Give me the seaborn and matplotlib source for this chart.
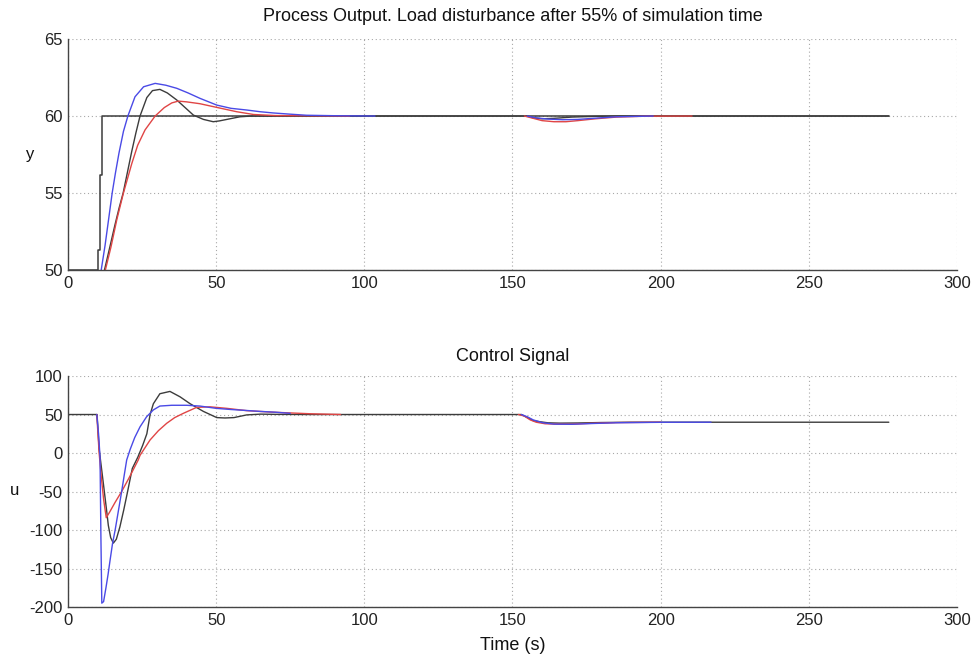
import matplotlib
matplotlib.use("Agg")
import matplotlib.pyplot as plt
import seaborn as sns
import pandas as pd

# ---------------- data ----------------
x_ticks = [0, 50, 100, 150, 200, 250, 300]
y_ticks_top = [50, 55, 60, 65]
y_ticks_bot = [-200, -150, -100, -50, 0, 50, 100]

# Process output: setpoint
sp_t = [0, 10.0, 10.0, 10.8, 10.8, 11.4, 11.4, 277]
sp_y = [50, 50, 51.3, 51.3, 56.2, 56.2, 60, 60]

# Process output: black response (full length)
yk_t = [12.3, 14.0, 15.8, 17.2, 18.6, 20.0, 21.5, 22.9, 24.3, 26.6, 28.5, 31.0, 33.5,
        36.7, 39.5, 42.3, 45.7, 49.0, 51.0, 53.6, 58.0, 62.0, 152, 155, 157, 160,
        164, 170, 178, 185, 277]
yk_y = [50, 51.4, 52.9, 54.0, 55.0, 56.3, 57.7, 58.9, 60.0, 61.2, 61.65, 61.73, 61.5,
        61.04, 60.55, 60.06, 59.78, 59.63, 59.68, 59.78, 59.95, 60.0, 60.0, 60.0, 59.88,
        59.82, 59.85, 59.93, 59.98, 60.0, 60.0]

# Process output: blue response (two visible pieces)
yb1_t = [11.2, 12.5, 13.7, 14.9, 16.0, 17.2, 18.7, 20.2, 22.6, 25.5, 29.4, 33.0, 36.7,
         40.5, 44.5, 50.2, 55.0, 60.3, 64.8, 69.2, 75.0, 80.5, 90.0, 103.6]
yb1_y = [50, 51.6, 53.3, 55.0, 56.3, 57.6, 59.0, 60.0, 61.25, 61.9, 62.12, 62.0, 61.8,
         61.5, 61.15, 60.71, 60.5, 60.39, 60.28, 60.2, 60.12, 60.05, 60.02, 60.0]
yb2_t = [155, 158, 162, 167, 172, 178, 185, 197.5]
yb2_y = [60.0, 59.88, 59.8, 59.76, 59.78, 59.86, 59.95, 60.0]

# Process output: red response (two visible pieces)
yr1_t = [12.6, 14.5, 16.5, 18.7, 21.5, 23.5, 26.0, 29.4, 32.5, 35.0, 37.2, 40.0, 44.5,
         50.2, 56.9, 62.6, 70.0, 95.0]
yr1_y = [50, 51.5, 53.3, 55.0, 56.9, 58.1, 59.1, 60.0, 60.55, 60.85, 60.97, 60.92, 60.8,
         60.56, 60.28, 60.1, 60.03, 60.0]
yr2_t = [154, 157, 160, 164, 168, 172, 178, 185, 195, 210.6]
yr2_y = [60.0, 59.85, 59.7, 59.63, 59.63, 59.7, 59.82, 59.93, 59.99, 60.0]

# Control signal: black (full length)
uk_t = [0, 9.8, 10.5, 11.3, 12.0, 13.0, 13.6, 14.4, 15.3, 16.3, 17.5, 18.8, 20.0, 21.0,
        21.7, 23.6, 25.2, 26.6, 27.7, 28.8, 31.0, 34.4, 37.8, 41.2, 45.7, 50.2, 53.0,
        56.0, 60.3, 65.0, 70.0, 80.0, 153, 155, 157, 159.3, 162, 166, 172, 180, 190, 277]
uk_y = [50, 50, 5, -20, -42, -74, -94, -110, -117, -112, -96, -74, -52, -33,
        -20, -5, 10, 25, 50, 64, 77, 80, 73, 64, 54, 46, 45.5,
        46, 49.5, 50.5, 50.2, 50, 50, 46, 42, 40.6, 39.2, 38.8, 39.0, 39.6, 40, 40]

# Control signal: blue (two visible pieces)
ub1_t = [9.7, 10.3, 10.8, 11.1, 11.4, 12.0, 12.8, 13.5, 14.2, 15.0, 15.9, 17.0, 18.1,
         19.0, 19.8, 21.0, 22.5, 24.3, 26.5, 28.8, 31.0, 35.0, 40.0, 44.5, 50.0, 55.0,
         60.0, 65.0, 70.0, 75.0]
ub1_y = [50, 25, -5, -110, -195, -193, -175, -158, -139, -118, -100, -75, -50,
         -28, -9, 5, 20, 34, 47, 56, 61, 62, 62, 61, 58, 56.5,
         55.3, 54, 53, 51.5]
ub2_t = [153, 155, 157, 160, 164, 170, 176, 185, 200, 217]
ub2_y = [50, 47, 43, 39.5, 37.5, 37.3, 38.2, 39.3, 39.9, 40]

# Control signal: red (two visible pieces)
ur1_t = [9.7, 10.5, 11.2, 12.0, 12.9, 14.0, 15.9, 18.1, 20.5, 23.7, 24.3, 27.7, 30.5,
         33.3, 36.0, 38.9, 43.4, 47.9, 53.6, 60.3, 69.2, 81.6, 92.0]
ur1_y = [50, 0, -30, -60, -84, -77, -64, -50, -33, -9, -3, 17, 29,
         38.6, 46, 51.5, 59.3, 60, 58, 55, 53, 51, 50]
ur2_t = [152, 154, 156, 158, 161, 165, 170, 176, 185, 200]
ur2_y = [50, 48, 43, 40, 38, 37.5, 37.5, 38.5, 39.5, 40]

# ---------------- styling ----------------
sns.set_style("white")
plt.rcParams["font.family"] = ["Liberation Sans", "DejaVu Sans"]

GRAY = "#3c3c3c"
BLUE = "#4a4ae6"
RED = "#e04545"

fig = plt.figure(figsize=(9.76, 6.56), dpi=100)
ax1 = fig.add_axes([0.0697, 0.5884, 0.9108, 0.3521])
ax2 = fig.add_axes([0.0697, 0.0747, 0.9108, 0.3521])


def seg(ax, t, v, color, lw=1.0):
    df = pd.DataFrame({"t": t, "v": v})
    sns.lineplot(data=df, x="t", y="v", ax=ax, color=color, lw=lw,
                 estimator=None, sort=False, legend=False)


# top axes
seg(ax1, sp_t, sp_y, GRAY, 1.1)
seg(ax1, yk_t, yk_y, GRAY, 1.0)
seg(ax1, yr1_t, yr1_y, RED)
seg(ax1, yr2_t, yr2_y, RED)
seg(ax1, yb1_t, yb1_y, BLUE)
seg(ax1, yb2_t, yb2_y, BLUE)

# bottom axes
seg(ax2, uk_t, uk_y, GRAY, 1.0)
seg(ax2, ur1_t, ur1_y, RED)
seg(ax2, ur2_t, ur2_y, RED)
seg(ax2, ub1_t, ub1_y, BLUE)
seg(ax2, ub2_t, ub2_y, BLUE)

for ax, yt in ((ax1, y_ticks_top), (ax2, y_ticks_bot)):
    ax.set_xlim(0, 300)
    ax.set_ylim(min(yt), max(yt))
    ax.set_xticks(x_ticks)
    ax.set_yticks(yt)
    ax.set_xticklabels([str(v) for v in x_ticks])
    ax.set_yticklabels([str(v) for v in yt])
    ax.grid(True, linestyle=(0, (1, 2.5)), color="#a8a8a8", linewidth=0.8)
    for s in ("top", "right"):
        ax.spines[s].set_visible(False)
    for s in ("left", "bottom"):
        ax.spines[s].set_color("#444444")
        ax.spines[s].set_linewidth(1.0)
    ax.tick_params(direction="in", length=5, width=0.8, labelsize=12,
                   colors="#222222", pad=4)
    ax.set_xlabel("")
    ax.set_ylabel("")

ax1.set_title("Process Output. Load disturbance after 55% of simulation time",
              fontsize=13, pad=13, color="#111111")
ax2.set_title("Control Signal", fontsize=13, pad=11, color="#111111")
ax2.set_xlabel("Time (s)", fontsize=13, labelpad=7, color="#111111")

ax1.set_ylabel("y", rotation=0, fontsize=12, color="#111111", va="center", ha="center")
ax1.yaxis.set_label_coords(-0.043, 0.5)
ax2.set_ylabel("u", rotation=0, fontsize=12, color="#111111", va="center", ha="center")
ax2.yaxis.set_label_coords(-0.06, 0.506)

fig.savefig("out.png", dpi=100)
